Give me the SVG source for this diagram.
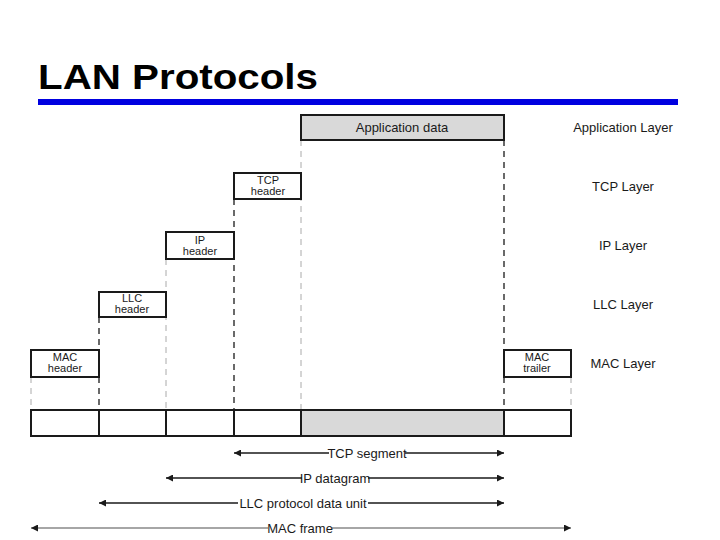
<svg xmlns="http://www.w3.org/2000/svg" width="720" height="540" viewBox="0 0 720 540">
<style>
.title{font-family:"Liberation Sans",Arial,sans-serif;font-weight:bold;font-size:35px;fill:#000}
.box{fill:#fff;stroke:#1a1a1a;stroke-width:2}
.gbox{fill:#d9d9d9;stroke:#1a1a1a;stroke-width:2}
.t{font-family:"Liberation Sans",Arial,sans-serif;fill:#1a1a1a;text-anchor:middle}
.bt{font-size:11px}
.lt{font-size:13px}
.dd{stroke:#1a1a1a;stroke-width:1.3;stroke-dasharray:6,5;fill:none}
.dl{stroke:#aaa;stroke-width:1;stroke-dasharray:6,5;fill:none}
.ar{stroke:#1a1a1a;stroke-width:1.3;fill:none;marker-start:url(#ah);marker-end:url(#ah)}
.arg{stroke:#888;stroke-width:1.3;fill:none;marker-start:url(#ah);marker-end:url(#ah)}
.lbg{fill:#fff}
</style>
<defs>
<marker id="ah" viewBox="0 0 10 10" refX="10" refY="5" markerWidth="10" markerHeight="7" markerUnits="userSpaceOnUse" orient="auto-start-reverse">
<path d="M0,0 L10,5 L0,10 z" fill="#1a1a1a"/>
</marker>
</defs>
<rect width="720" height="540" fill="#fff"/>
<text class="title" x="38" y="89" textLength="280" lengthAdjust="spacingAndGlyphs">LAN Protocols</text>
<rect x="38" y="99" width="640" height="6" fill="#0000e0"/>

<g id="connectors">
<path class="dl" d="M301,140 V410"/>
<path class="dd" d="M504,140 V350 M504,377 V410"/>
<path class="dd" d="M234,199 V410"/>
<path class="dl" d="M166,259 V410"/>
<path class="dd" d="M99,317 V350 M99,377 V410"/>
<path class="dl" d="M31,377 V410"/>
<path class="dl" d="M571,377 V410"/>
<line class="ar" x1="234" y1="453" x2="504" y2="453"/>
<line class="ar" x1="166" y1="478" x2="504" y2="478"/>
<line class="ar" x1="99" y1="503" x2="504" y2="503"/>
<line class="arg" x1="31" y1="528" x2="571" y2="528"/>
<rect class="lbg" x="329" y="445" width="76" height="16"/>
<rect class="lbg" x="302" y="470" width="66" height="16"/>
<rect class="lbg" x="238" y="495" width="130" height="16"/>
<rect class="lbg" x="268" y="520" width="64" height="16"/>
<text class="t lt" x="367" y="457.5">TCP segment</text>
<text class="t lt" x="335" y="482.5">IP datagram</text>
<text class="t lt" x="303" y="507.5">LLC protocol data unit</text>
<text class="t lt" x="300" y="532.5">MAC frame</text>
</g>

<g id="app-data"><rect class="gbox" x="301" y="115" width="203" height="25"/><text class="t lt" x="402" y="132">Application data</text></g>
<g id="tcp-header"><rect class="box" x="234" y="173" width="67" height="26"/><text class="t bt" x="268" y="184">TCP</text><text class="t bt" x="268" y="195">header</text></g>
<g id="ip-header"><rect class="box" x="166" y="232" width="68" height="27"/><text class="t bt" x="200" y="244">IP</text><text class="t bt" x="200" y="255">header</text></g>
<g id="llc-header"><rect class="box" x="99" y="292" width="67" height="25"/><text class="t bt" x="132" y="302">LLC</text><text class="t bt" x="132" y="313">header</text></g>
<g id="mac-header"><rect class="box" x="31" y="350" width="68" height="27"/><text class="t bt" x="65" y="361">MAC</text><text class="t bt" x="65" y="372">header</text></g>
<g id="mac-trailer"><rect class="box" x="504" y="350" width="67" height="27"/><text class="t bt" x="537" y="361">MAC</text><text class="t bt" x="537" y="372">trailer</text></g>

<g id="frame">
<rect class="box" x="31" y="410" width="68" height="26"/>
<rect class="box" x="99" y="410" width="67" height="26"/>
<rect class="box" x="166" y="410" width="68" height="26"/>
<rect class="box" x="234" y="410" width="67" height="26"/>
<rect class="gbox" x="301" y="410" width="203" height="26"/>
<rect class="box" x="504" y="410" width="67" height="26"/>
</g>

<g id="layers">
<text class="t lt" x="623" y="132">Application Layer</text>
<text class="t lt" x="623" y="191">TCP Layer</text>
<text class="t lt" x="623" y="250">IP Layer</text>
<text class="t lt" x="623" y="309">LLC Layer</text>
<text class="t lt" x="623" y="368">MAC Layer</text>
</g>
</svg>
